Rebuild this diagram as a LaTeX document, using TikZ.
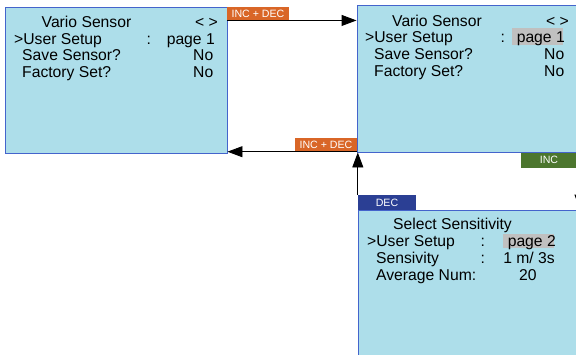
\documentclass[tikz,border=0pt]{standalone}
\usepackage{fontspec}
\setmainfont{Liberation Sans}
\usetikzlibrary{arrows.meta,calc}
\definecolor{scrfill}{RGB}{173,222,234}
\definecolor{scrline}{RGB}{68,100,204}
\definecolor{incdec}{RGB}{217,102,39}
\definecolor{incgreen}{RGB}{76,118,46}
\definecolor{decblue}{RGB}{43,63,148}
\definecolor{hilite}{RGB}{192,192,192}
\tikzset{
  screen/.style={draw=scrline, line width=0.9pt, fill=scrfill, rectangle, inner sep=0pt},
  txt/.style={anchor=base west, inner sep=0pt, font=\fontsize{15.7}{16.8}\selectfont},
  txtr/.style={anchor=base east, inner sep=0pt, font=\fontsize{15.7}{16.8}\selectfont},
  keylab/.style={rectangle, inner sep=0pt, text=white, font=\fontsize{10.6}{12}\selectfont},
  arr/.style={draw=black, line width=0.9pt, -{Triangle[length=15pt,width=11pt]}},
  hl/.style={fill=hilite, draw=none}
}
\begin{document}
\begin{tikzpicture}[x=1pt,y=-1pt]
\useasboundingbox (0,0) rectangle (576,354);
\fill[white] (0,0) rectangle (576,354);
\begin{scope}
\clip (0,0) rectangle (576,354);
% screens
\node[screen, minimum width=222pt, minimum height=146pt] (b1) at (116,80) {};
\node[screen, minimum width=260pt, minimum height=147pt] (b2) at (487,78.5) {};
\node[screen, minimum width=260pt, minimum height=170pt] (b3) at (488,295) {};
% screen 1 text
\node[txt] (s1a) at (41.5,27.3) {Vario Sensor};
\node[txtr] (s1b) at (218,27.3) {< >};
\node[txt] (s1c) at (14,44.1) {>User Setup};
\node[txt] (s1d) at (146.5,44.1) {:};
\node[txtr] (s1e) at (215,44.1) {page 1};
\node[txt] (s1f) at (22,60.9) {Save Sensor?};
\node[txtr] (s1g) at (213.5,60.9) {No};
\node[txt] (s1h) at (22,77.7) {Factory Set?};
\node[txtr] (s1i) at (213.5,77.7) {No};
% screen 2 text
\fill[hl] (512,28) rectangle (563,45);
\node[txt] (s2a) at (392,26) {Vario Sensor};
\node[txtr] (s2b) at (569,26) {< >};
\node[txt] (s2c) at (365,42.7) {>User Setup};
\node[txt] (s2d) at (500.5,42.7) {:};
\node[txtr] (s2e) at (565,42.7) {page 1};
\node[txt] (s2f) at (374,59.3) {Save Sensor?};
\node[txtr] (s2g) at (564.5,59.3) {No};
\node[txt] (s2h) at (374,76) {Factory Set?};
\node[txtr] (s2i) at (564.5,76) {No};
% screen 3 text
\fill[hl] (503,234) rectangle (554,248);
\node[txt] (s3a) at (393,229) {Select Sensitivity};
\node[txt] (s3b) at (367,246) {>User Setup};
\node[txt] (s3c) at (480.5,246) {:};
\node[txtr] (s3d) at (556,246) {page 2};
\node[txt] (s3e) at (376,263) {Sensivity};
\node[txt] (s3f) at (480.5,263) {:};
\node[txtr] (s3g) at (555,263) {1 m/ 3s};
\node[txt] (s3h) at (376,280.7) {Average Num:};
\node[txt] (s3i) at (519,280.7) {20};
% key labels
\node[keylab, fill=incdec, minimum width=62pt, minimum height=13.5pt] (ltop) at (258,13.5) {INC + DEC};
\node[keylab, fill=incdec, minimum width=62pt, minimum height=14pt] (lbot) at (326,144.5) {INC + DEC};
\node[keylab, fill=incgreen, minimum width=56pt, minimum height=15pt] (linc) at (549,160) {INC};
\node[keylab, fill=decblue, minimum width=58pt, minimum height=15pt] (ldec) at (387,202.5) {DEC};
% connectors
\draw[arr] (ltop.south west) -- (ltop.south west -| b2.west);
\draw[arr] (lbot.south east) -- (lbot.south east -| b1.east);
\draw[arr] (ldec.north west) -- (ldec.north west |- b2.south);
\coordinate (dtop) at (580,167);
\draw[arr] (dtop) -- (dtop |- b3.north);
\end{scope}
\end{tikzpicture}
\end{document}
